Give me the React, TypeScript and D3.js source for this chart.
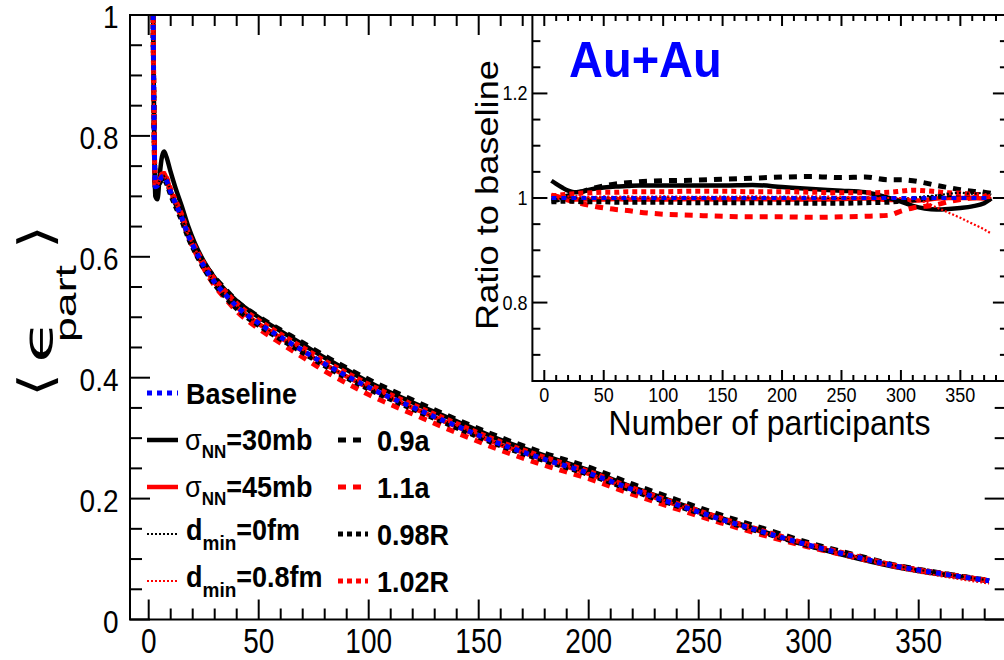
import React from "react";
import * as d3 from "d3";

const W = 1004;
const H = 660;
const SANS = "'Liberation Sans', Arial, Helvetica, sans-serif";
const MATH = "'DejaVu Sans', sans-serif";

// ---- Main panel: <eps_part> versus number of participants ----
const N_MAIN = [2, 2.5, 3, 4, 5, 6, 7, 8, 10, 12, 15, 18, 21, 25, 30, 35, 40, 50, 60, 70, 80, 90, 100, 120, 140, 160, 180, 200, 220, 240, 260, 280, 300, 320, 340, 360, 382];

const EPS_BASELINE = [1.0, 0.8, 0.716, 0.718, 0.726, 0.732, 0.733, 0.727, 0.707, 0.69, 0.665, 0.635, 0.612, 0.585, 0.558, 0.537, 0.518, 0.49, 0.467, 0.445, 0.423, 0.403, 0.384, 0.351, 0.32, 0.29, 0.265, 0.242, 0.215, 0.19, 0.166, 0.144, 0.123, 0.105, 0.088, 0.076, 0.064];
const EPS_SIG30 = [1.0, 0.8, 0.7, 0.695, 0.735, 0.765, 0.774, 0.766, 0.74, 0.716, 0.684, 0.65, 0.622, 0.593, 0.565, 0.544, 0.527, 0.5, 0.477, 0.455, 0.433, 0.413, 0.393, 0.359, 0.328, 0.297, 0.271, 0.247, 0.219, 0.193, 0.168, 0.145, 0.122, 0.103, 0.0865, 0.0748, 0.064];
const EPS_SIG45 = [1.0, 0.8, 0.714, 0.718, 0.728, 0.735, 0.738, 0.731, 0.709, 0.69, 0.664, 0.634, 0.611, 0.584, 0.557, 0.536, 0.517, 0.489, 0.466, 0.444, 0.422, 0.402, 0.383, 0.35, 0.319, 0.289, 0.264, 0.241, 0.2145, 0.1895, 0.1657, 0.1436, 0.1225, 0.1045, 0.088, 0.076, 0.0638];
const EPS_DMIN0 = [1.0, 0.8, 0.717, 0.719, 0.727, 0.733, 0.734, 0.728, 0.708, 0.691, 0.665, 0.636, 0.612, 0.585, 0.558, 0.537, 0.518, 0.49, 0.467, 0.445, 0.423, 0.403, 0.384, 0.351, 0.32, 0.29, 0.265, 0.242, 0.215, 0.19, 0.166, 0.144, 0.123, 0.1053, 0.0885, 0.0765, 0.0645];
const EPS_DMIN08 = [1.0, 0.8, 0.716, 0.718, 0.727, 0.733, 0.734, 0.728, 0.708, 0.691, 0.666, 0.636, 0.613, 0.586, 0.559, 0.538, 0.519, 0.491, 0.468, 0.446, 0.424, 0.404, 0.385, 0.352, 0.321, 0.291, 0.2655, 0.2425, 0.2155, 0.1903, 0.1662, 0.1441, 0.123, 0.1048, 0.085, 0.0718, 0.0595];
const EPS_A09 = [1.0, 0.8, 0.716, 0.716, 0.723, 0.729, 0.73, 0.725, 0.706, 0.69, 0.665, 0.637, 0.616, 0.59, 0.566, 0.546, 0.527, 0.501, 0.479, 0.458, 0.436, 0.416, 0.397, 0.363, 0.331, 0.301, 0.275, 0.252, 0.224, 0.198, 0.173, 0.15, 0.127, 0.108, 0.0897, 0.077, 0.0645];
const EPS_A11 = [1.0, 0.8, 0.716, 0.72, 0.728, 0.734, 0.736, 0.729, 0.708, 0.69, 0.665, 0.633, 0.609, 0.581, 0.552, 0.53, 0.51, 0.481, 0.457, 0.434, 0.411, 0.391, 0.372, 0.34, 0.309, 0.28, 0.255, 0.233, 0.207, 0.183, 0.16, 0.139, 0.12, 0.1034, 0.0874, 0.076, 0.0642];
const EPS_R098 = [1.0, 0.8, 0.713, 0.714, 0.722, 0.727, 0.728, 0.722, 0.702, 0.685, 0.66, 0.631, 0.608, 0.581, 0.554, 0.533, 0.514, 0.4865, 0.4635, 0.4415, 0.4195, 0.3995, 0.381, 0.348, 0.317, 0.2873, 0.2625, 0.2398, 0.2129, 0.1881, 0.1645, 0.1428, 0.1222, 0.1047, 0.0885, 0.0766, 0.0643];
const EPS_R102 = [1.0, 0.8, 0.72, 0.722, 0.731, 0.737, 0.738, 0.732, 0.712, 0.695, 0.67, 0.64, 0.617, 0.59, 0.563, 0.542, 0.523, 0.495, 0.472, 0.45, 0.428, 0.408, 0.389, 0.3555, 0.324, 0.2938, 0.2683, 0.245, 0.2176, 0.1922, 0.1679, 0.1458, 0.1245, 0.1066, 0.0889, 0.0766, 0.0643];

// ---- Inset: ratio of each variation to the baseline ----
const N_RATIO = [6, 10, 15, 20, 25, 30, 40, 50, 60, 70, 80, 100, 125, 150, 175, 200, 225, 250, 270, 290, 300, 310, 320, 330, 340, 350, 360, 370, 376];

const R_BASELINE = [1, 1, 1, 1, 1, 1, 1, 1, 1, 1, 1, 1, 1, 1, 1, 1, 1, 1, 1, 1, 1, 1, 1, 1, 1, 1, 1, 1, 1];
const R_SIG30 = [1.033, 1.027, 1.02, 1.014, 1.011, 1.012, 1.017, 1.02, 1.022, 1.023, 1.024, 1.024, 1.024, 1.024, 1.025, 1.021, 1.017, 1.014, 1.011, 1.0, 0.993, 0.985, 0.98, 0.978, 0.979, 0.981, 0.984, 0.99, 0.999];
const R_SIG45 = [1.006, 1.004, 1.0, 0.998, 0.997, 0.997, 0.997, 0.997, 0.998, 0.997, 0.997, 0.997, 0.998, 0.997, 0.998, 0.997, 0.997, 0.998, 0.999, 0.996, 0.996, 0.995, 0.996, 0.999, 1.0, 1.0, 1.0, 0.999, 0.997];
const R_DMIN0 = [0.997, 0.998, 1.0, 1.001, 1.001, 1.0, 1.001, 1.002, 1.001, 1.002, 1.001, 1.002, 1.001, 1.002, 1.001, 1.002, 1.001, 1.0, 1.001, 1.0, 0.999, 1.0, 1.003, 1.005, 1.008, 1.01, 1.008, 1.01, 1.006];
const R_DMIN08 = [1.004, 1.003, 1.002, 1.003, 1.004, 1.003, 1.002, 1.003, 1.002, 1.003, 1.002, 1.003, 1.002, 1.002, 1.003, 1.002, 1.003, 1.002, 1.001, 1.0, 1.0, 0.998, 0.992, 0.982, 0.972, 0.962, 0.951, 0.94, 0.932];
const R_A09 = [0.995, 0.996, 1.0, 1.004, 1.008, 1.011, 1.018, 1.023, 1.027, 1.029, 1.031, 1.033, 1.034, 1.036, 1.038, 1.04, 1.041, 1.039, 1.04, 1.035, 1.035, 1.033, 1.029, 1.024, 1.02, 1.016, 1.013, 1.011, 1.009];
const R_A11 = [1.003, 1.002, 1.0, 0.996, 0.993, 0.99, 0.985, 0.981, 0.978, 0.976, 0.973, 0.969, 0.967, 0.965, 0.964, 0.964, 0.963, 0.964, 0.965, 0.967, 0.975, 0.981, 0.984, 0.987, 0.993, 0.997, 1.0, 1.002, 1.003];
const R_R098 = [0.993, 0.993, 0.994, 0.994, 0.994, 0.993, 0.993, 0.993, 0.992, 0.992, 0.992, 0.992, 0.991, 0.991, 0.991, 0.991, 0.99, 0.99, 0.991, 0.992, 0.994, 0.996, 0.998, 1.002, 1.006, 1.008, 1.007, 1.006, 1.004];
const R_R102 = [1.004, 1.005, 1.006, 1.007, 1.008, 1.009, 1.01, 1.011, 1.011, 1.012, 1.012, 1.012, 1.013, 1.013, 1.012, 1.012, 1.011, 1.01, 1.01, 1.011, 1.013, 1.015, 1.014, 1.012, 1.01, 1.009, 1.007, 1.005, 1.003];

// ---- Tick labels ----
const X_MAJOR = [0, 50, 100, 150, 200, 250, 300, 350];
const X_LABELS = ["0", "50", "100", "150", "200", "250", "300", "350"];
const Y_MAIN_MAJOR = [0, 0.2, 0.4, 0.6, 0.8, 1];
const Y_MAIN_LABELS = ["0", "0.2", "0.4", "0.6", "0.8", "1"];
const Y_INSET_MAJOR = [0.8, 1, 1.2];
const Y_INSET_LABELS = ["0.8", "1", "1.2"];

const RED = "#ff0000";
const BLUE = "#0000ff";
const BLACK = "#000000";

type Series = {
  key: string;
  color: string;
  width: number;
  dash: string | null;
  main: number[];
  ratio: number[];
};

// drawing order: baseline last so it sits on top
const SERIES: Series[] = [
  { key: "sig45", color: RED, width: 4.5, dash: null, main: EPS_SIG45, ratio: R_SIG45 },
  { key: "sig30", color: BLACK, width: 4.5, dash: null, main: EPS_SIG30, ratio: R_SIG30 },
  { key: "a09", color: BLACK, width: 5, dash: "8 7", main: EPS_A09, ratio: R_A09 },
  { key: "a11", color: RED, width: 5, dash: "8 7", main: EPS_A11, ratio: R_A11 },
  { key: "r098", color: BLACK, width: 5, dash: "5 4", main: EPS_R098, ratio: R_R098 },
  { key: "r102", color: RED, width: 5, dash: "5 4", main: EPS_R102, ratio: R_R102 },
  { key: "dmin0", color: BLACK, width: 2.2, dash: "2 2", main: EPS_DMIN0, ratio: R_DMIN0 },
  { key: "dmin08", color: RED, width: 2.2, dash: "2 2", main: EPS_DMIN08, ratio: R_DMIN08 },
  { key: "base", color: BLUE, width: 5, dash: "5 5", main: EPS_BASELINE, ratio: R_BASELINE },
];
const STYLE: Record<string, Series> = Object.fromEntries(SERIES.map((s) => [s.key, s]));

function SText(props: {
  x: number;
  y: number;
  k?: number;
  anchor?: "start" | "middle" | "end";
  size: number;
  weight?: string | number;
  fill?: string;
  family?: string;
  children: React.ReactNode;
}) {
  const { x, y, k = 1, anchor = "start", size, weight = "normal", fill = BLACK, family = SANS, children } = props;
  return (
    <text
      transform={`translate(${x},${y}) scale(1,${k})`}
      textAnchor={anchor}
      fontSize={size}
      fontWeight={weight}
      fill={fill}
      fontFamily={family}
    >
      {children}
    </text>
  );
}

// a glyph run placed by transform and stretched to a given advance length
function Stretched(props: { u: number; v: number; len: number; size: number; family: string; children: React.ReactNode }) {
  const { u, v, len, size, family, children } = props;
  return (
    <text
      transform={`translate(${u},${v})`}
      x={0}
      y={0}
      fontSize={size}
      fontFamily={family}
      textLength={len}
      lengthAdjust="spacingAndGlyphs"
      fill={BLACK}
    >
      {children}
    </text>
  );
}

export default function App() {
  const xM = d3.scaleLinear().domain([-8.5, 390]).range([130, 1006.7]);
  const yM = d3.scaleLinear().domain([0, 1]).range([619.5, 15]);
  const xI = d3.scaleLinear().domain([-10, 390]).range([532.4, 1007.9]);
  const yI = d3.scaleLinear().domain([0.65, 1.35]).range([381, 15]);

  const mainPath = (vals: number[]) =>
    d3
      .line<number>()
      .x((_, i) => xM(N_MAIN[i]))
      .y((v) => yM(v))
      .curve(d3.curveMonotoneX)(vals) || "";
  const ratioPath = (vals: number[]) =>
    d3
      .line<number>()
      .x((_, i) => xI(N_RATIO[i]))
      .y((v) => yI(v))
      .curve(d3.curveMonotoneX)(vals) || "";

  const mainXTicks = d3.range(0, 390, 10);
  const mainYTicks = d3.range(0, 21).map((i) => i * 0.05);
  const insetXTicks = d3.range(0, 390, 10);
  const insetYTicks = d3.range(14, 27).map((i) => i * 0.05);

  const mL = xM.range()[0];
  const mR = xM.range()[1];
  const mB = yM.range()[0];
  const mT = yM.range()[1];
  const iL = xI.range()[0];
  const iR = xI.range()[1];
  const iB = yI.range()[0];
  const iT = yI.range()[1];

  const legendRows = [393, 440, 487, 534, 581];
  const c1 = [147, 178];
  const c2 = [338, 368];
  const sample = (key: string, x: number[], y: number) => {
    const s = STYLE[key];
    return (
      <line
        key={`lg-${key}`}
        x1={x[0]}
        x2={x[1]}
        y1={y}
        y2={y}
        stroke={s.color}
        strokeWidth={s.width}
        strokeDasharray={s.dash || undefined}
      />
    );
  };
  const LF = 27;
  const LK = 1.08;

  return (
    <svg
      width={W}
      height={H}
      viewBox={`0 0 ${W} ${H}`}
      style={{ position: "absolute", left: 0, top: 0, background: "#fff" }}
    >
      <rect x={0} y={0} width={W} height={H} fill="#fff" />

      {/* main curves */}
      <g fill="none" strokeLinejoin="round">
        {SERIES.map((s) => (
          <path
            key={`m-${s.key}`}
            d={mainPath(s.main)}
            stroke={s.color}
            strokeWidth={s.width}
            strokeDasharray={s.dash || undefined}
          />
        ))}
      </g>

      {/* main frame and ticks */}
      <g stroke={BLACK} strokeWidth={2}>
        {mainXTicks.map((v) => {
          const major = v % 50 === 0;
          const len = major ? 20 : 11;
          return (
            <g key={`mx-${v}`}>
              <line x1={xM(v)} x2={xM(v)} y1={mB} y2={mB - len} />
              <line x1={xM(v)} x2={xM(v)} y1={mT} y2={mT + len} />
            </g>
          );
        })}
        {mainYTicks.map((v, i) => {
          const major = i % 4 === 0;
          return (
            <g key={`my-${i}`}>
              <line x1={mL} x2={mL + (major ? 20 : 12)} y1={yM(v)} y2={yM(v)} />
              <line x1={mR} x2={mR - (major ? 22 : 12)} y1={yM(v)} y2={yM(v)} />
            </g>
          );
        })}
        <rect x={mL} y={mT} width={mR - mL} height={mB - mT} fill="none" />
      </g>

      {/* main tick labels */}
      {X_MAJOR.map((v, i) => (
        <SText key={`mxl-${v}`} x={xM(v)} y={652.5} k={1.22} anchor="middle" size={28}>
          {X_LABELS[i]}
        </SText>
      ))}
      {Y_MAIN_MAJOR.map((v, i) => (
        <SText key={`myl-${i}`} x={118.5} y={yM(v) + 13} k={1.12} anchor="end" size={28}>
          {Y_MAIN_LABELS[i]}
        </SText>
      ))}

      {/* main y-axis title, written bottom to top */}
      <g transform="translate(52,400) rotate(-90)">
        <Stretched u={3} v={0} len={24} size={47} family={MATH}>
          {"\u27E8"}
        </Stretched>
        <Stretched u={37} v={0} len={44} size={40} family={MATH}>
          {"\u03F5"}
        </Stretched>
        <Stretched u={58} v={24} len={77} size={30} family={SANS}>
          part
        </Stretched>
        <Stretched u={151} v={0} len={24} size={47} family={MATH}>
          {"\u27E9"}
        </Stretched>
      </g>

      {/* legend */}
      <g>
        {sample("base", c1, legendRows[0])}
        {sample("sig30", c1, legendRows[1])}
        {sample("sig45", c1, legendRows[2])}
        {sample("dmin0", c1, legendRows[3])}
        {sample("dmin08", c1, legendRows[4])}
        {sample("a09", c2, legendRows[1])}
        {sample("a11", c2, legendRows[2])}
        {sample("r098", c2, legendRows[3])}
        {sample("r102", c2, legendRows[4])}
      </g>
      <SText x={186} y={legendRows[0] + 11} k={LK} size={LF} weight="bold">
        Baseline
      </SText>
      <SText x={185} y={legendRows[1] + 10} k={LK} size={LF} weight="bold">
        <tspan fontWeight="normal">σ</tspan>
        <tspan fontSize={17} dy={7}>NN</tspan>
        <tspan dy={-7}>=30mb</tspan>
      </SText>
      <SText x={185} y={legendRows[2] + 10} k={LK} size={LF} weight="bold">
        <tspan fontWeight="normal">σ</tspan>
        <tspan fontSize={17} dy={7}>NN</tspan>
        <tspan dy={-7}>=45mb</tspan>
      </SText>
      <SText x={186} y={legendRows[3] + 6} k={LK} size={LF} weight="bold">
        d<tspan fontSize={19} dy={9}>min</tspan>
        <tspan dy={-9}>=0fm</tspan>
      </SText>
      <SText x={186} y={legendRows[4] + 6} k={LK} size={LF} weight="bold">
        d<tspan fontSize={19} dy={9}>min</tspan>
        <tspan dy={-9}>=0.8fm</tspan>
      </SText>
      <SText x={377} y={legendRows[1] + 11} k={LK} size={LF} weight="bold">
        0.9a
      </SText>
      <SText x={377} y={legendRows[2] + 11} k={LK} size={LF} weight="bold">
        1.1a
      </SText>
      <SText x={377} y={legendRows[3] + 11} k={LK} size={LF} weight="bold">
        0.98R
      </SText>
      <SText x={377} y={legendRows[4] + 11} k={LK} size={LF} weight="bold">
        1.02R
      </SText>

      {/* inset panel */}
      <rect x={iL} y={iT} width={iR - iL} height={iB - iT} fill="#fff" />
      <g fill="none" strokeLinejoin="round">
        {SERIES.map((s) => (
          <path
            key={`r-${s.key}`}
            d={ratioPath(s.ratio)}
            stroke={s.color}
            strokeWidth={s.key === "base" ? 4 : s.width}
            strokeDasharray={s.dash || undefined}
          />
        ))}
      </g>
      <g stroke={BLACK} strokeWidth={2}>
        {insetXTicks.map((v) => {
          const major = v % 50 === 0;
          const len = major ? 11 : 6;
          return (
            <g key={`ix-${v}`}>
              <line x1={xI(v)} x2={xI(v)} y1={iB} y2={iB - len} />
              <line x1={xI(v)} x2={xI(v)} y1={iT} y2={iT + len} />
            </g>
          );
        })}
        {insetYTicks.map((v, i) => {
          const major = (i + 14) % 4 === 0;
          return (
            <g key={`iy-${i}`}>
              <line x1={iL} x2={iL + (major ? 15 : 8)} y1={yI(v)} y2={yI(v)} />
              <line x1={iR} x2={iR - (major ? 15 : 8)} y1={yI(v)} y2={yI(v)} />
            </g>
          );
        })}
        <rect x={iL} y={iT} width={iR - iL} height={iB - iT} fill="none" />
      </g>
      {X_MAJOR.map((v, i) => (
        <SText key={`ixl-${v}`} x={xI(v)} y={401.5} k={1.08} anchor="middle" size={18}>
          {X_LABELS[i]}
        </SText>
      ))}
      {Y_INSET_MAJOR.map((v, i) => (
        <SText key={`iyl-${i}`} x={527.5} y={yI(v) + 7} k={1.15} anchor="end" size={18}>
          {Y_INSET_LABELS[i]}
        </SText>
      ))}
      <SText x={769.5} y={435} k={1.09} anchor="middle" size={32}>
        Number of participants
      </SText>
      <text
        transform="translate(498,330) rotate(-90)"
        fontSize={31}
        fontFamily={SANS}
        textLength={270}
        lengthAdjust="spacingAndGlyphs"
        fill={BLACK}
      >
        Ratio to baseline
      </text>
      <SText x={569} y={77} k={1.05} size={47} weight="bold" fill={BLUE}>
        Au+Au
      </SText>
    </svg>
  );
}
